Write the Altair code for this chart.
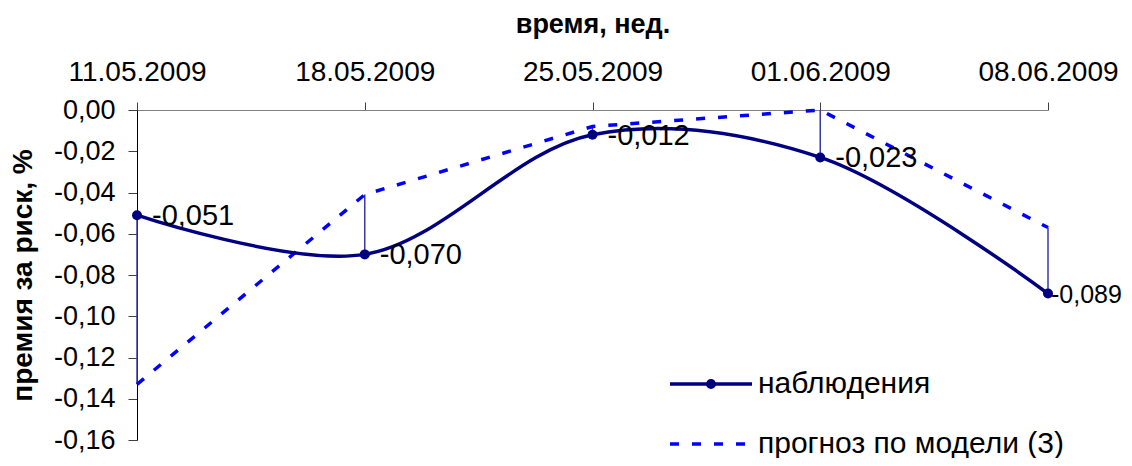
import altair as alt
import pandas as pd

dates = ["11.05.2009", "18.05.2009", "25.05.2009", "01.06.2009", "08.06.2009"]
observed = [-0.051, -0.070, -0.012, -0.023, -0.089]
forecast = [-0.133, -0.041, -0.008, 0.000, -0.057]
y_ticks = [0.00, -0.02, -0.04, -0.06, -0.08, -0.10, -0.12, -0.14, -0.16]
obs_name = "наблюдения"
fc_name = "прогноз по модели (3)"
x_title = "время, нед."
y_title = "премия за риск, %"

FONT = "Liberation Sans"
NAVY = "#000080"
BLUE = "#0000FF"
DROP = "#3838A8"

df = pd.DataFrame({"date": dates, "obs": observed, "fc": forecast})
df["label"] = [("%.3f" % v).replace(".", ",") for v in observed]
df["idx"] = list(range(len(dates)))
df["s_obs"] = obs_name
df["s_fc"] = fc_name

x_axis = alt.Axis(
    orient="top", title=x_title, labelAngle=0, labelFont=FONT, labelFontSize=28,
    labelColor="black", labelPadding=16, tickSize=8, tickColor="#404040",
    domainColor="#808080", domainWidth=1, grid=False, labelOverlap=False,
    titleFont=FONT, titleFontSize=27, titleFontWeight="bold", titleColor="black",
    titlePadding=20,
)
x_enc = alt.X("date:N", sort=dates, scale=alt.Scale(type="point", padding=0), axis=x_axis)

y_scale = alt.Scale(domain=[-0.16, 0], nice=False, zero=False)
y_axis = alt.Axis(
    values=y_ticks, title=y_title,
    labelExpr="replace(replace(format(datum.value, '.2f'), '.', ','), '−', '-')",
    labelFont=FONT, labelFontSize=27, labelColor="black", labelPadding=13,
    tickSize=9, tickColor="#404040", domainColor="black", domainWidth=1, grid=False,
    titleFont=FONT, titleFontSize=28, titleFontWeight="bold", titleColor="black",
    titlePadding=16,
)

base = alt.Chart(df)

drop = base.mark_rule(color=DROP, strokeWidth=1.5).encode(
    x=x_enc, y=alt.Y("obs:Q", scale=y_scale, axis=y_axis), y2="fc:Q"
)

dot_path = ("M-1,0L1,0M-0.08,0A0.08,0.08,0,1,1,0.08,0"
            "A0.08,0.08,0,1,1,-0.08,0Z")

fc_line = base.mark_line(interpolate="linear", strokeWidth=3.5, strokeDash=[9, 13]).encode(
    x=x_enc,
    y=alt.Y("fc:Q", scale=y_scale, axis=y_axis),
    color=alt.Color(
        "s_fc:N", scale=alt.Scale(domain=[fc_name], range=[BLUE]),
        legend=alt.Legend(
            title=None, orient="none", legendX=531, legendY=291, padding=0,
            symbolType="stroke", symbolSize=6724, symbolStrokeWidth=3.5,
            symbolDash=[9, 13], labelFont=FONT, labelFontSize=30,
            labelColor="black", labelLimit=600, labelOffset=4,
        ),
    ),
)

obs_line = base.mark_line(interpolate="catmull-rom", strokeWidth=3.5).encode(
    x=x_enc,
    y=alt.Y("obs:Q", scale=y_scale, axis=y_axis),
    color=alt.Color(
        "s_obs:N", scale=alt.Scale(domain=[obs_name], range=[NAVY]),
        legend=alt.Legend(
            title=None, orient="none", legendX=531, legendY=231, padding=0,
            symbolType=dot_path, symbolSize=6724, symbolStrokeWidth=3.5,
            symbolFillColor=NAVY, labelFont=FONT, labelFontSize=30,
            labelColor="black", labelLimit=600, labelOffset=4,
        ),
    ),
)

pts = base.mark_circle(size=100, color=NAVY, opacity=1).encode(
    x=x_enc, y=alt.Y("obs:Q", scale=y_scale, axis=y_axis)
)

labels = base.mark_text(
    align="left", baseline="middle", dx=15, dy=1, fontSize=29, font=FONT, color="black"
).encode(
    x=x_enc, y=alt.Y("obs:Q", scale=y_scale, axis=y_axis), text="label:N"
).transform_filter("datum.idx < 4")

labels_last = base.mark_text(
    align="left", baseline="middle", dx=3, dy=1, fontSize=25, font=FONT, color="black"
).encode(
    x=x_enc, y=alt.Y("obs:Q", scale=y_scale, axis=y_axis), text="label:N"
).transform_filter("datum.idx == 4")

chart = (
    alt.layer(drop, fc_line, obs_line, pts, labels, labels_last)
    .resolve_scale(color="independent")
    .resolve_legend(color="independent")
    .properties(
        width=911, height=330,
        padding={"left": 129, "top": 102, "right": 76, "bottom": 18},
        autosize=alt.AutoSizeParams(type="none"),
        background="white",
    )
    .configure_view(stroke=None)
)

chart.save("out.html", embed_options={"renderer": "svg", "actions": False})
